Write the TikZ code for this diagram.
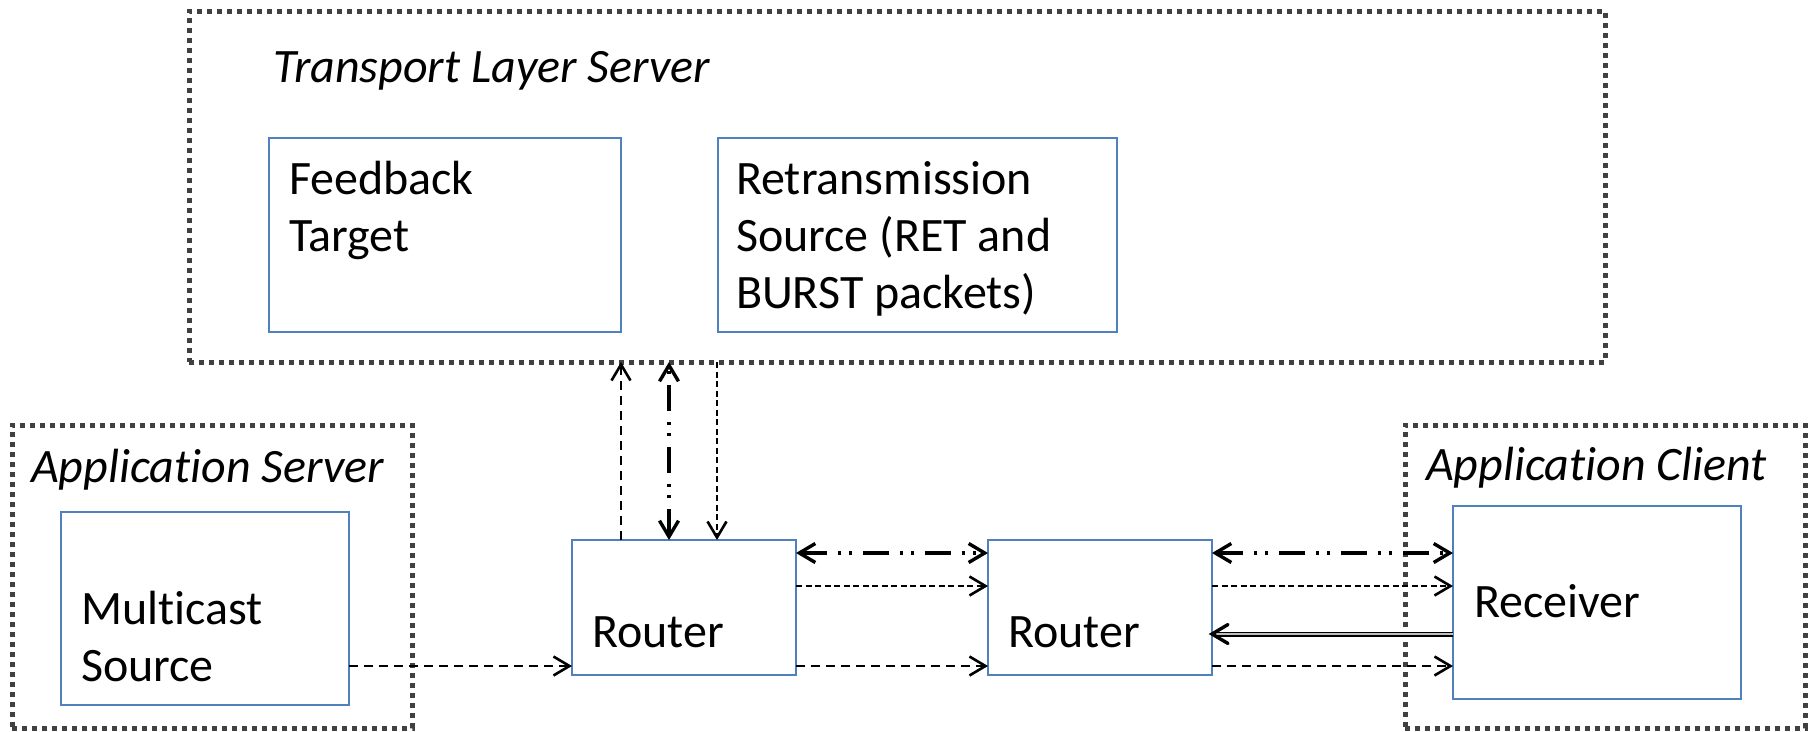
\documentclass[tikz,border=0pt]{standalone}
\usepackage{fontspec}
\setmainfont{Carlito}[Ligatures=NoCommon]
\usetikzlibrary{arrows.meta}
\definecolor{boxblue}{HTML}{4F81BD}
\definecolor{grpgray}{HTML}{404040}
\definecolor{dblfill}{HTML}{BFBFBF}
\begin{document}
\begin{tikzpicture}[x=1pt,y=-1pt,
  every node/.style={inner sep=0pt, outer sep=0pt},
  box/.style={draw=boxblue, line width=2.4pt, anchor=north west, rectangle},
  grp/.style={draw=grpgray, line width=5pt, dash pattern=on 5pt off 5pt, anchor=north west, rectangle},
  lbl/.style={anchor=base west, font=\fontsize{48}{57}\selectfont, align=left},
  ttl/.style={anchor=base west, font=\fontsize{48}{57}\selectfont\itshape},
  tipthin/.style={-{Straight Barb[length=16pt,width=19pt,line width=2.6pt]}},
  tipboth/.style={{Straight Barb[length=16pt,width=19pt]}-{Straight Barb[length=16pt,width=19pt]}},
  dashcoarse/.style={line width=2.4pt, dash pattern=on 9pt off 6pt, tipthin},
  dashfine/.style={line width=2.3pt, dash pattern=on 6pt off 3.5pt, tipthin},
  dashdotdot/.style={line width=3.4pt, dash pattern=on 26pt off 11pt on 3pt off 8pt on 3pt off 11pt, tipboth},
]
\useasboundingbox (0,0) rectangle (1812,731);

% group containers
\node[grp, minimum width=1416pt, minimum height=351pt] (ts) at (189,11) {};
\node[grp, minimum width=400pt, minimum height=303pt] (as) at (12,425) {};
\node[grp, minimum width=400pt, minimum height=303pt] (ac) at (1405,425) {};

% boxes
\node[box, minimum width=352pt, minimum height=194pt] (fb) at (269,138) {};
\node[box, minimum width=399pt, minimum height=194pt] (rt) at (718,138) {};
\node[box, minimum width=288pt, minimum height=193pt] (ms) at (61,512) {};
\node[box, minimum width=224pt, minimum height=135pt] (r1) at (572,540) {};
\node[box, minimum width=224pt, minimum height=135pt] (r2) at (988,540) {};
\node[box, minimum width=288pt, minimum height=193pt] (rc) at (1453,506) {};

% titles
\node[ttl] (tst) at (273,82) {Transport Layer Server};
\node[ttl] (ast) at (31,482) {Application Server};
\node[ttl] (act) at (1426,480) {Application Client};

% labels (base anchor = baseline of last line)
\node[lbl] (fbt) at (289,251) {Feedback\\Target};
\node[lbl] (rtt) at (736,308) {Retransmission\\Source (RET and\\BURST packets)};
\node[lbl] (mst) at (81,681) {Multicast\\Source};
\node[lbl] (r1t) at (592,647) {Router};
\node[lbl] (r2t) at (1008,647) {Router};
\node[lbl] (rct) at (1474,617) {Receiver};

% vertical connectors router 1 <-> transport layer server
\draw[dashcoarse] ([xshift=49pt]r1.north west) -- ([xshift=49pt]r1.north west |- ts.south);
\draw[dashdotdot] ([xshift=97pt]r1.north west) -- ([xshift=97pt]r1.north west |- ts.south);
\draw[dashfine] ([xshift=145pt]r1.north west |- ts.south) -- ([xshift=145pt]r1.north west);

% multicast source -> router 1
\draw[dashcoarse] ([yshift=-154pt]ms.north east) -- ([yshift=-126pt]r1.north west);

% router 1 -> router 2
\draw[dashdotdot] ([yshift=-13pt]r1.north east) -- ([yshift=-13pt]r2.north west);
\draw[dashfine] ([yshift=-46pt]r1.north east) -- ([yshift=-46pt]r2.north west);
\draw[dashcoarse] ([yshift=-126pt]r1.north east) -- ([yshift=-126pt]r2.north west);

% router 2 -> receiver
\draw[dashdotdot] ([yshift=-13pt]r2.north east) -- ([yshift=-47pt]rc.north west);
\draw[dashfine] ([yshift=-46pt]r2.north east) -- ([yshift=-80pt]rc.north west);
\draw[dashcoarse] ([yshift=-126pt]r2.north east) -- ([yshift=-160pt]rc.north west);

% receiver => router 2 (double line)
\coordinate (dbltip) at ([yshift=-94pt]r2.north east);
\draw[double=dblfill, double distance=2.4pt, line width=1.3pt] ([yshift=-128pt]rc.north west) -- ([xshift=3pt]dbltip);
\draw[line width=3.4pt, line cap=round, line join=miter] ([xshift=16pt,yshift=9.5pt]dbltip) -- (dbltip) -- ([xshift=16pt,yshift=-9.5pt]dbltip);
\end{tikzpicture}
\end{document}
